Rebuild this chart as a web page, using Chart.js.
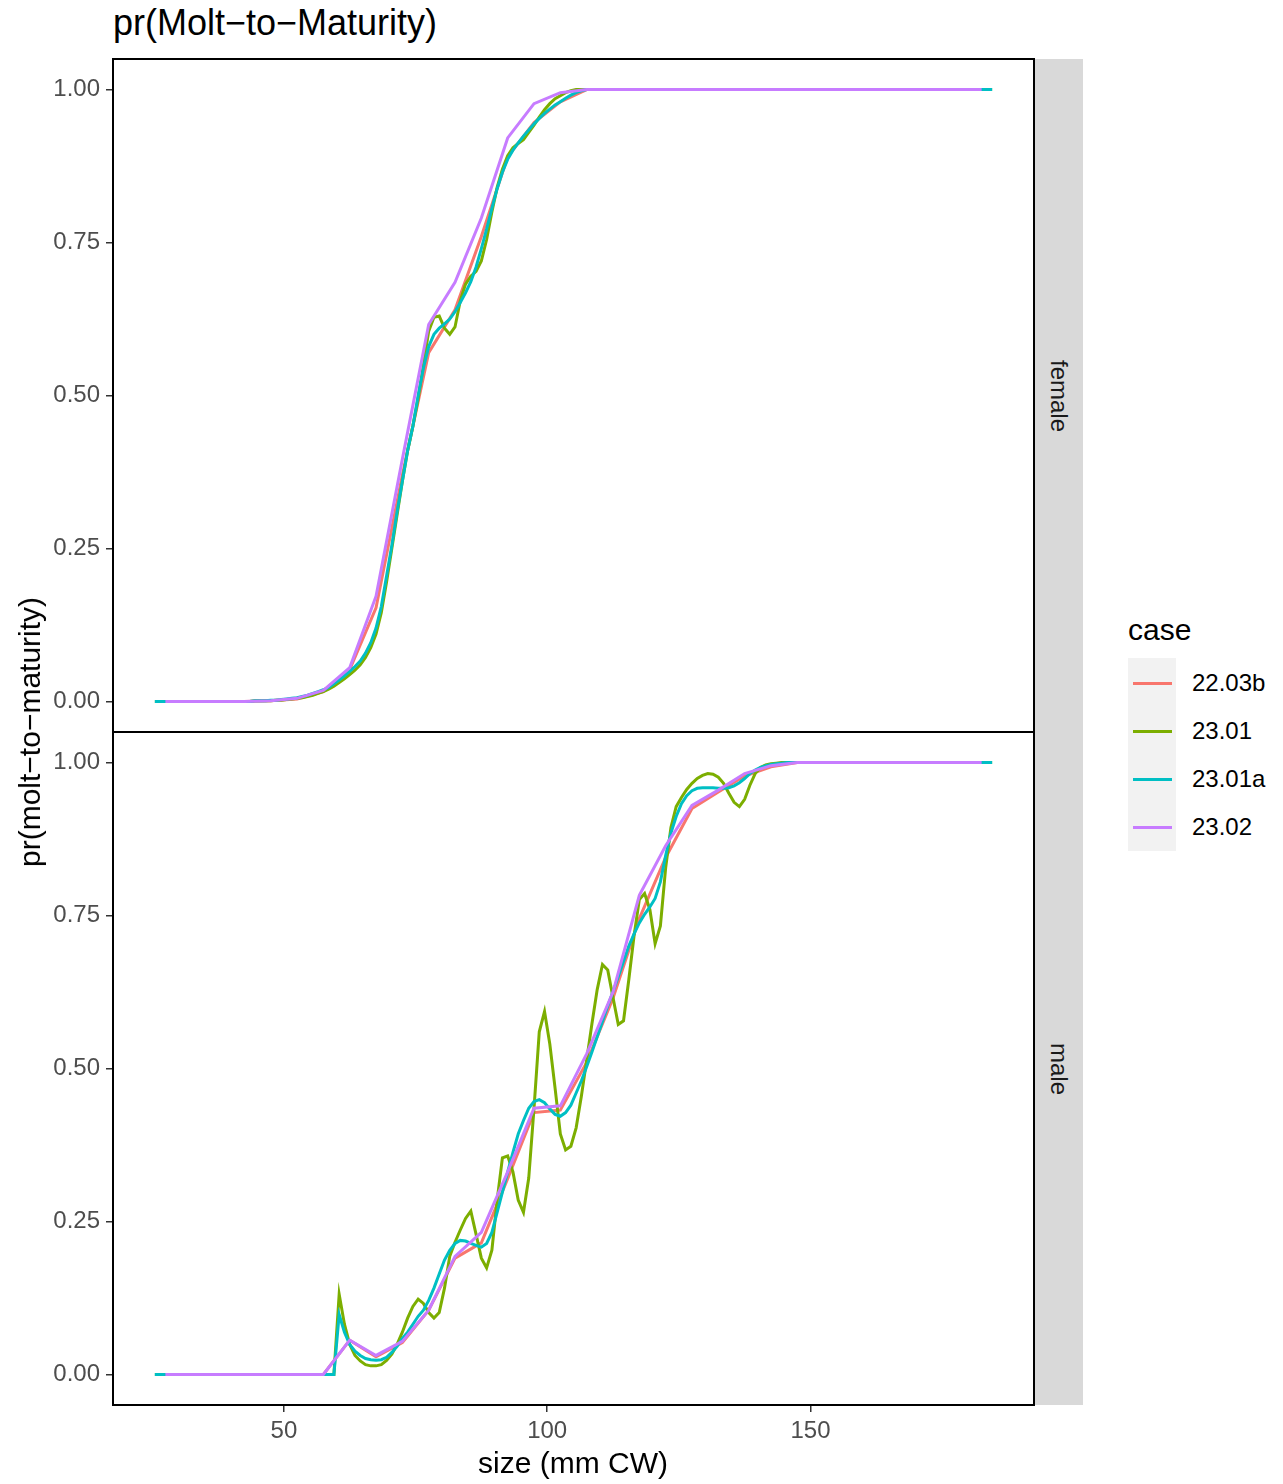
<!doctype html>
<html>
<head>
    <title>pr(Molt-to-Maturity)</title>
    <meta charset="utf-8">
    <style>
        body {
            margin: 0;
            background: #fff;
            font-family: "Liberation Sans", Arial, sans-serif;
        }

        .page {
            position: relative;
            width: 1283px;
            height: 1484px;
            overflow: hidden;
        }

        .page canvas {
            position: absolute;
            left: 0;
        }

        .title {
            position: absolute;
            left: 113px;
            top: 3px;
            font-size: 36px;
            line-height: 40px;
            white-space: nowrap;
        }

        .axis-title {
            position: absolute;
            font-size: 30px;
            white-space: nowrap;
            transform: translate(-50%, -50%);
        }

        .axis-title--y {
            left: 30px;
            top: 732px;
            transform: translate(-50%, -50%) rotate(-90deg);
        }

        .axis-title--x {
            left: 573px;
            top: 1463px;
        }

        .strip {
            position: absolute;
            left: 1035px;
            width: 48px;
            background: #d9d9d9;
        }

        .strip span {
            position: absolute;
            left: 50%;
            top: 50%;
            font-size: 24px;
            color: #1a1a1a;
            white-space: nowrap;
            transform: translate(-50%, -50%) rotate(90deg);
        }

        .legend__title {
            position: absolute;
            left: 1128px;
            top: 630px;
            font-size: 30px;
            transform: translateY(-50%);
        }

        .legend__keys {
            position: absolute;
            left: 1128px;
            top: 658px;
            width: 48px;
            height: 193px;
            background: #f2f2f2;
        }

        .legend__line {
            position: absolute;
            left: 1133px;
            width: 39px;
            height: 3px;
        }

        .legend__label {
            position: absolute;
            left: 1192px;
            font-size: 24px;
            transform: translateY(-50%);
        }
    </style>
    <script src="https://cdn.jsdelivr.net/npm/chart.js@4.4.1/dist/chart.umd.min.js"></script>
</head>
<body>
<div class="page">
    <div class="title">pr(Molt−to−Maturity)</div>
    <canvas id="female" width="1040" height="762" style="top:0"></canvas>
    <canvas id="male" width="1040" height="748" style="top:702px"></canvas>
    <div class="strip" style="top:59px;height:673px"><span>female</span></div>
    <div class="strip" style="top:732px;height:673px"><span>male</span></div>
    <div class="axis-title axis-title--y">pr(molt−to−maturity)</div>
    <div class="axis-title axis-title--x">size (mm CW)</div>
    <div id="legend"></div>
</div>
<script>
    "use strict";

    let cases = ["22.03b", "23.01", "23.01a", "23.02"];
    let caseColor = ["#F8766D", "#7CAE00", "#00BFC4", "#C77CFF"];

    // 5 mm bins (22.03b, 23.02)
    let sizeCoarse = [
        27.5, 32.5, 37.5, 42.5, 47.5, 52.5, 57.5, 62.5, 67.5, 72.5,
        77.5, 82.5, 87.5, 92.5, 97.5, 102.5, 107.5, 112.5, 117.5, 122.5,
        127.5, 132.5, 137.5, 142.5, 147.5, 152.5, 157.5, 162.5, 167.5, 172.5,
        177.5, 182.5,
    ];

    // 1 mm bins (23.01, 23.01a)
    let sizeFine = [
        25.5, 26.5, 27.5, 28.5, 29.5, 30.5, 31.5, 32.5, 33.5, 34.5,
        35.5, 36.5, 37.5, 38.5, 39.5, 40.5, 41.5, 42.5, 43.5, 44.5,
        45.5, 46.5, 47.5, 48.5, 49.5, 50.5, 51.5, 52.5, 53.5, 54.5,
        55.5, 56.5, 57.5, 58.5, 59.5, 60.5, 61.5, 62.5, 63.5, 64.5,
        65.5, 66.5, 67.5, 68.5, 69.5, 70.5, 71.5, 72.5, 73.5, 74.5,
        75.5, 76.5, 77.5, 78.5, 79.5, 80.5, 81.5, 82.5, 83.5, 84.5,
        85.5, 86.5, 87.5, 88.5, 89.5, 90.5, 91.5, 92.5, 93.5, 94.5,
        95.5, 96.5, 97.5, 98.5, 99.5, 100.5, 101.5, 102.5, 103.5, 104.5,
        105.5, 106.5, 107.5, 108.5, 109.5, 110.5, 111.5, 112.5, 113.5, 114.5,
        115.5, 116.5, 117.5, 118.5, 119.5, 120.5, 121.5, 122.5, 123.5, 124.5,
        125.5, 126.5, 127.5, 128.5, 129.5, 130.5, 131.5, 132.5, 133.5, 134.5,
        135.5, 136.5, 137.5, 138.5, 139.5, 140.5, 141.5, 142.5, 143.5, 144.5,
        145.5, 146.5, 147.5, 148.5, 149.5, 150.5, 151.5, 152.5, 153.5, 154.5,
        155.5, 156.5, 157.5, 158.5, 159.5, 160.5, 161.5, 162.5, 163.5, 164.5,
        165.5, 166.5, 167.5, 168.5, 169.5, 170.5, 171.5, 172.5, 173.5, 174.5,
        175.5, 176.5, 177.5, 178.5, 179.5, 180.5, 181.5, 182.5, 183.5, 184.5,
    ];

    let female_2203b = [
        0, 0, 0, 0, 0.001, 0.004, 0.016, 0.052, 0.153, 0.37,
        0.57, 0.64, 0.76, 0.89, 0.946, 0.98, 1, 1, 1, 1,
        1, 1, 1, 1, 1, 1, 1, 1, 1, 1,
        1, 1,
    ];

    let female_2302 = [
        0, 0, 0, 0, 0.001, 0.005, 0.018, 0.055, 0.172, 0.396,
        0.616, 0.685, 0.79, 0.921, 0.977, 0.995, 1, 1, 1, 1,
        1, 1, 1, 1, 1, 1, 1, 1, 1, 1,
        1, 1,
    ];

    let female_2301 = [
        0, 0, 0, 0, 0, 0, 0, 0, 0, 0,
        0, 0, 0, 0, 0, 0, 0, 0, 0, 0.001,
        0.001, 0.001, 0.001, 0.002, 0.002, 0.003, 0.004, 0.005, 0.006, 0.008,
        0.01, 0.013, 0.016, 0.02, 0.025, 0.031, 0.037, 0.044, 0.051, 0.06,
        0.072, 0.088, 0.11, 0.145, 0.195, 0.25, 0.305, 0.36, 0.41, 0.45,
        0.495, 0.55, 0.605, 0.628, 0.63, 0.61, 0.6, 0.612, 0.655, 0.682,
        0.695, 0.703, 0.72, 0.755, 0.8, 0.84, 0.87, 0.892, 0.905, 0.912,
        0.918, 0.93, 0.942, 0.955, 0.967, 0.977, 0.985, 0.99, 0.995, 0.998,
        1, 1, 1, 1, 1, 1, 1, 1, 1, 1,
        1, 1, 1, 1, 1, 1, 1, 1, 1, 1,
        1, 1, 1, 1, 1, 1, 1, 1, 1, 1,
        1, 1, 1, 1, 1, 1, 1, 1, 1, 1,
        1, 1, 1, 1, 1, 1, 1, 1, 1, 1,
        1, 1, 1, 1, 1, 1, 1, 1, 1, 1,
        1, 1, 1, 1, 1, 1, 1, 1, 1, 1,
        1, 1, 1, 1, 1, 1, 1, 1, 1, 1,
    ];

    let female_2301a = [
        0, 0, 0, 0, 0, 0, 0, 0, 0, 0,
        0, 0, 0, 0, 0, 0, 0, 0, 0, 0.001,
        0.001, 0.001, 0.002, 0.002, 0.003, 0.004, 0.005, 0.006, 0.008, 0.01,
        0.013, 0.016, 0.019, 0.023, 0.029, 0.035, 0.042, 0.049, 0.057, 0.066,
        0.079, 0.096, 0.12, 0.155, 0.205, 0.255, 0.31, 0.36, 0.41, 0.45,
        0.5, 0.545, 0.58, 0.6, 0.61, 0.617, 0.625, 0.637, 0.652, 0.668,
        0.686, 0.71, 0.74, 0.772, 0.806, 0.838, 0.865, 0.886, 0.901, 0.913,
        0.924, 0.934, 0.944, 0.953, 0.961, 0.968, 0.975, 0.98, 0.986, 0.991,
        0.995, 0.998, 1, 1, 1, 1, 1, 1, 1, 1,
        1, 1, 1, 1, 1, 1, 1, 1, 1, 1,
        1, 1, 1, 1, 1, 1, 1, 1, 1, 1,
        1, 1, 1, 1, 1, 1, 1, 1, 1, 1,
        1, 1, 1, 1, 1, 1, 1, 1, 1, 1,
        1, 1, 1, 1, 1, 1, 1, 1, 1, 1,
        1, 1, 1, 1, 1, 1, 1, 1, 1, 1,
        1, 1, 1, 1, 1, 1, 1, 1, 1, 1,
    ];

    let male_2203b = [
        0, 0, 0, 0, 0, 0, 0, 0.056, 0.029, 0.052,
        0.105, 0.19, 0.215, 0.32, 0.428, 0.432, 0.51, 0.615, 0.745, 0.845,
        0.925, 0.952, 0.978, 0.993, 1, 1, 1, 1, 1, 1,
        1, 1,
    ];

    let male_2302 = [
        0, 0, 0, 0, 0, 0, 0, 0.056, 0.031, 0.054,
        0.105, 0.193, 0.232, 0.331, 0.435, 0.439, 0.524, 0.625, 0.783, 0.864,
        0.93, 0.955, 0.982, 0.995, 1, 1, 1, 1, 1, 1,
        1, 1,
    ];

    let male_2301 = [
        0, 0, 0, 0, 0, 0, 0, 0, 0, 0,
        0, 0, 0, 0, 0, 0, 0, 0, 0, 0,
        0, 0, 0, 0, 0, 0, 0, 0, 0, 0,
        0, 0, 0, 0, 0, 0.131, 0.082, 0.049, 0.031, 0.022,
        0.016, 0.014, 0.014, 0.016, 0.023, 0.033, 0.049, 0.069, 0.092, 0.111,
        0.123, 0.116, 0.101, 0.092, 0.101, 0.141, 0.193, 0.216, 0.236, 0.255,
        0.267, 0.229, 0.19, 0.174, 0.203, 0.285, 0.354, 0.357, 0.331, 0.285,
        0.265, 0.321, 0.435, 0.56, 0.593, 0.54, 0.468, 0.393, 0.367, 0.373,
        0.403, 0.455, 0.514, 0.573, 0.629, 0.67, 0.661, 0.616, 0.572, 0.578,
        0.645, 0.717, 0.776, 0.786, 0.76, 0.704, 0.733, 0.828, 0.894, 0.928,
        0.943, 0.956, 0.966, 0.974, 0.979, 0.982, 0.981, 0.976, 0.966, 0.95,
        0.935, 0.928, 0.94, 0.963, 0.982, 0.992, 0.996, 0.998, 0.999, 1,
        1, 1, 1, 1, 1, 1, 1, 1, 1, 1,
        1, 1, 1, 1, 1, 1, 1, 1, 1, 1,
        1, 1, 1, 1, 1, 1, 1, 1, 1, 1,
        1, 1, 1, 1, 1, 1, 1, 1, 1, 1,
    ];

    let male_2301a = [
        0, 0, 0, 0, 0, 0, 0, 0, 0, 0,
        0, 0, 0, 0, 0, 0, 0, 0, 0, 0,
        0, 0, 0, 0, 0, 0, 0, 0, 0, 0,
        0, 0, 0, 0, 0, 0.098, 0.069, 0.049, 0.038, 0.031,
        0.026, 0.024, 0.023, 0.024, 0.028, 0.036, 0.046, 0.059, 0.069, 0.082,
        0.095, 0.105, 0.121, 0.141, 0.164, 0.187, 0.203, 0.214, 0.219, 0.218,
        0.214, 0.211, 0.208, 0.214, 0.232, 0.265, 0.298, 0.331, 0.363, 0.393,
        0.415, 0.435, 0.446, 0.449, 0.444, 0.434, 0.425, 0.422, 0.428, 0.44,
        0.46, 0.48, 0.503, 0.527, 0.552, 0.577, 0.602, 0.626, 0.65, 0.675,
        0.7, 0.72, 0.738, 0.752, 0.764, 0.778, 0.805, 0.848, 0.885, 0.912,
        0.933, 0.946, 0.954, 0.958, 0.959, 0.959, 0.959, 0.958, 0.958, 0.959,
        0.962, 0.967, 0.974, 0.982, 0.988, 0.992, 0.995, 0.997, 0.998, 0.999,
        1, 1, 1, 1, 1, 1, 1, 1, 1, 1,
        1, 1, 1, 1, 1, 1, 1, 1, 1, 1,
        1, 1, 1, 1, 1, 1, 1, 1, 1, 1,
        1, 1, 1, 1, 1, 1, 1, 1, 1, 1,
    ];

    let xTicks = [50, 100, 150];
    let yTicks = [0, 0.25, 0.5, 0.75, 1];

    Chart.defaults.font.family = '"Liberation Sans", Arial, sans-serif';

    let panelFrame = {
        id: "panelFrame",
        afterDraw: function (chart) {
            let area = chart.chartArea;
            let ctx = chart.ctx;
            ctx.save();
            ctx.strokeStyle = "#000";
            ctx.lineWidth = 2;
            ctx.strokeRect(area.left, area.top, area.right - area.left, area.bottom - area.top);
            ctx.restore();
        },
    };

    function points(xs, ys) {
        return xs.map(function (x, i) {
            return {x: x, y: ys[i]};
        });
    }

    function makePanel(canvas, series, showX, padding) {
        let xsList = [sizeCoarse, sizeFine, sizeFine, sizeCoarse];
        let datasets = cases.map(function (name, i) {
            return {
                label: name,
                data: points(xsList[i], series[i]),
                borderColor: caseColor[i],
                borderWidth: 3,
                pointRadius: 0,
                fill: false,
                tension: 0,
                order: cases.length - i,
            };
        });

        return new Chart(canvas, {
            type: "line",
            data: {datasets: datasets},
            options: {
                animation: false,
                responsive: false,
                devicePixelRatio: 1,
                layout: {padding: padding},
                plugins: {
                    legend: {display: false},
                    tooltip: {enabled: false},
                },
                scales: {
                    x: {
                        type: "linear",
                        min: 17.55,
                        max: 192.45,
                        display: showX,
                        afterBuildTicks: function (scale) {
                            scale.ticks = xTicks.map(function (v) { return {value: v}; });
                        },
                        afterFit: function (scale) {
                            if (showX) {
                                scale.height = 45;
                            }
                        },
                        grid: {
                            drawOnChartArea: false,
                            drawTicks: true,
                            tickLength: 7,
                            color: "#333333",
                            lineWidth: 1.5,
                        },
                        border: {display: false},
                        ticks: {
                            color: "#4d4d4d",
                            font: {size: 24},
                            padding: 5,
                            maxRotation: 0,
                        },
                    },
                    y: {
                        type: "linear",
                        min: -0.05,
                        max: 1.05,
                        afterBuildTicks: function (scale) {
                            scale.ticks = yTicks.map(function (v) { return {value: v}; });
                        },
                        afterFit: function (scale) {
                            scale.width = 113;
                        },
                        grid: {
                            drawOnChartArea: false,
                            drawTicks: true,
                            tickLength: 7,
                            color: "#333333",
                            lineWidth: 1.5,
                        },
                        border: {display: false},
                        ticks: {
                            color: "#4d4d4d",
                            font: {size: 24},
                            padding: 6,
                            callback: function (value) {
                                return Number(value).toFixed(2);
                            },
                        },
                    },
                },
            },
            plugins: [panelFrame],
        });
    }

    makePanel(document.getElementById("female"),
        [female_2203b, female_2301, female_2301a, female_2302],
        false, {top: 59, right: 6, bottom: 30, left: 0});

    makePanel(document.getElementById("male"),
        [male_2203b, male_2301, male_2301a, male_2302],
        true, {top: 30, right: 6, bottom: 0, left: 0});

    // legend
    let legend = document.getElementById("legend");
    let html = '<div class="legend__title">case</div><div class="legend__keys"></div>';
    for (let i = 0; i < cases.length; i++) {
        let y = 683 + i * 48;
        html += '<div class="legend__line" style="top:' + (y - 1.5) + 'px;background:' + caseColor[i] + '"></div>';
        html += '<div class="legend__label" style="top:' + y + 'px">' + cases[i] + '</div>';
    }
    legend.innerHTML = html;
</script>
</body>
</html>
